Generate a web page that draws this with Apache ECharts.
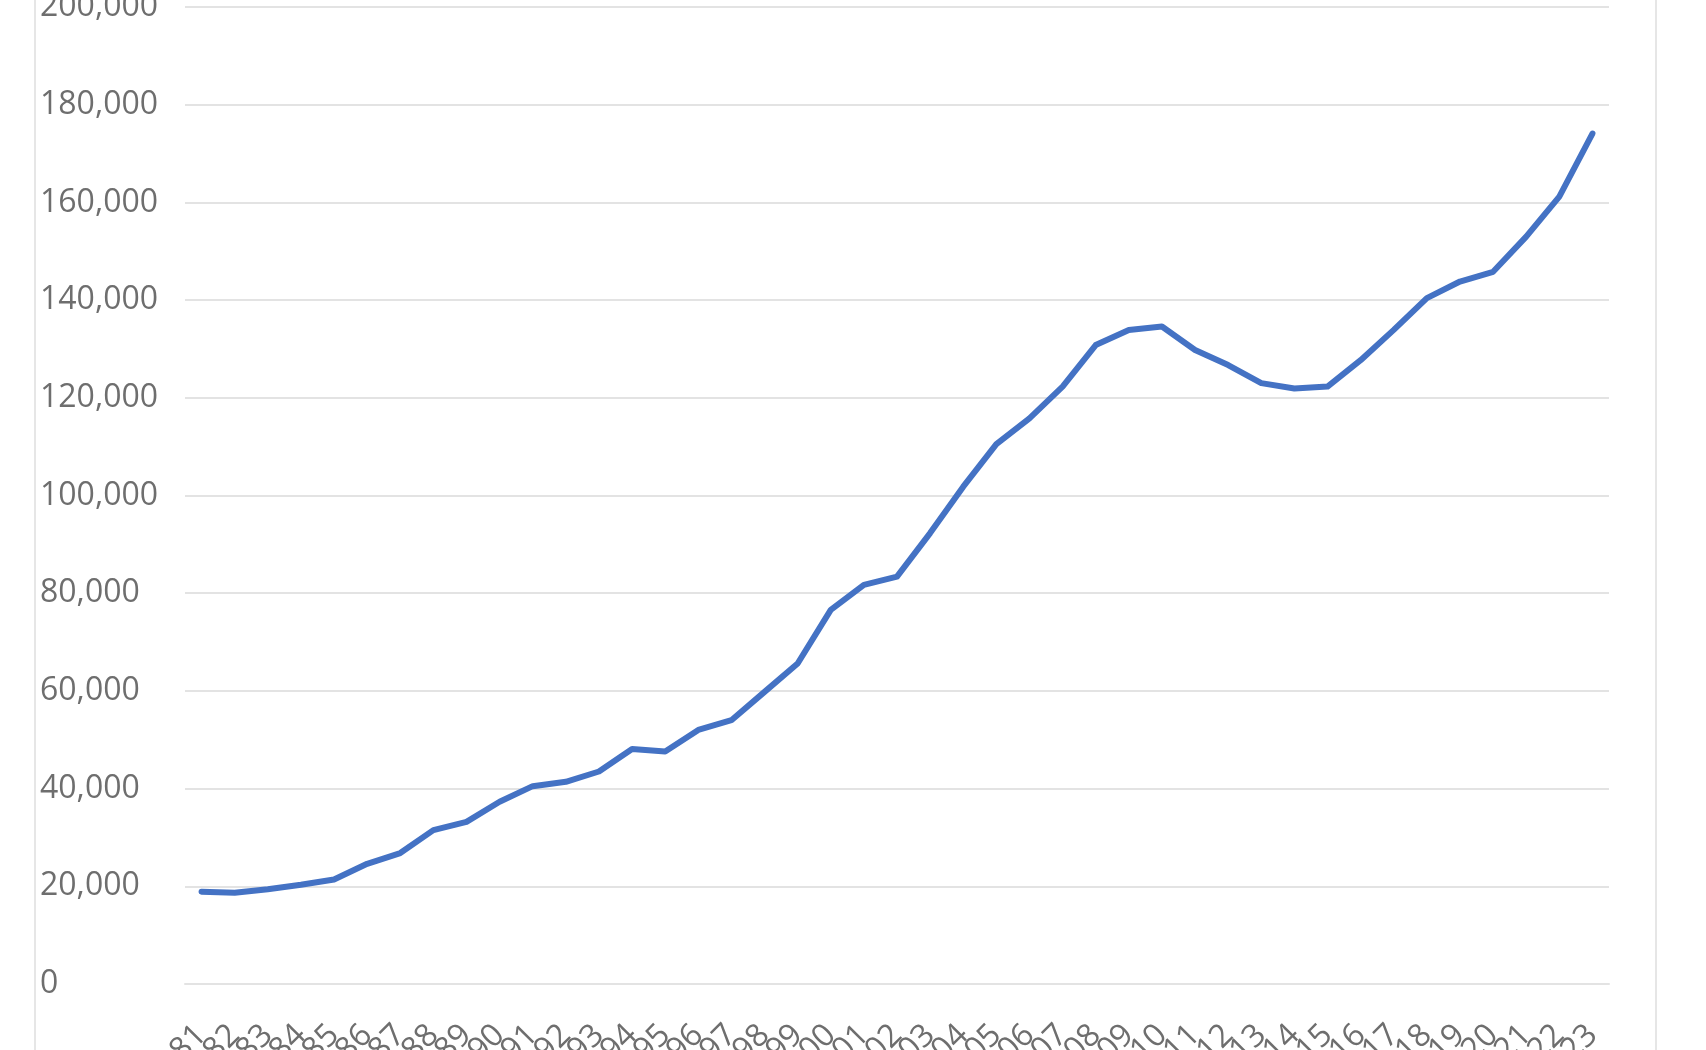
<!DOCTYPE html>
<html>
<head>
<meta charset="utf-8">
<script src="https://cdn.jsdelivr.net/npm/echarts@6/dist/echarts.min.js"></script>
<style>
html,body{margin:0;padding:0;background:#fff;overflow:hidden;}
#chart{width:1706px;height:1050px;}
</style>
</head>
<body>
<div id="chart"></div>
<script>
const years = ['1981','1982','1983','1984','1985','1986','1987','1988','1989','1990',
  '1991','1992','1993','1994','1995','1996','1997','1998','1999','2000',
  '2001','2002','2003','2004','2005','2006','2007','2008','2009','2010',
  '2011','2012','2013','2014','2015','2016','2017','2018','2019','2020',
  '2021','2022','2023'];
const values = [18900,18700,19400,20300,21400,24600,26800,31500,33200,37300,
  40500,41400,43500,48100,47600,52000,54000,59800,65600,76600,
  81700,83400,92300,101800,110500,115800,122300,130800,133900,134600,
  129800,126700,123000,121900,122300,127700,133900,140400,143800,145800,
  153000,161200,174100];
const yTicks = [0,20000,40000,60000,80000,100000,120000,140000,160000,180000,200000];

const chart = echarts.init(document.getElementById('chart'));
const font = '"Open Sans", "Liberation Sans", sans-serif';
chart.setOption({
  animation: false,
  backgroundColor: '#ffffff',
  graphic: [{
    type: 'rect',
    shape: { x: 35, y: -10, width: 1621, height: 1080 },
    style: { fill: 'none', stroke: '#e6e6e6', lineWidth: 2 },
    silent: true
  }],
  grid: { left: 185, right: 97, top: 7, bottom: 66, containLabel: false, outerBoundsMode: 'none' },
  xAxis: {
    type: 'category',
    data: years,
    boundaryGap: true,
    axisLine: { show: true, lineStyle: { color: '#e3e3e3', width: 2 } },
    axisTick: { show: false },
    axisLabel: {
      interval: 0,
      rotate: 45,
      margin: 46,
      fontSize: 32,
      fontFamily: font,
      color: '#6e6e6e',
      hideOverlap: false
    }
  },
  yAxis: {
    type: 'value',
    min: yTicks[0],
    max: yTicks[yTicks.length - 1],
    interval: yTicks[1] - yTicks[0],
    axisLine: { show: false },
    axisTick: { show: false },
    splitLine: { show: true, lineStyle: { color: '#e3e3e3', width: 2 } },
    axisLabel: {
      align: 'left',
      margin: 145,
      fontSize: 32,
      fontFamily: font,
      color: '#6e6e6e',
      formatter: v => v.toLocaleString('en-US')
    }
  },
  series: [{
    type: 'line',
    data: values,
    showSymbol: false,
    symbol: 'none',
    lineStyle: { color: '#4472C4', width: 6, cap: 'round', join: 'round' },
    itemStyle: { color: '#4472C4' }
  }]
});
</script>
</body>
</html>
